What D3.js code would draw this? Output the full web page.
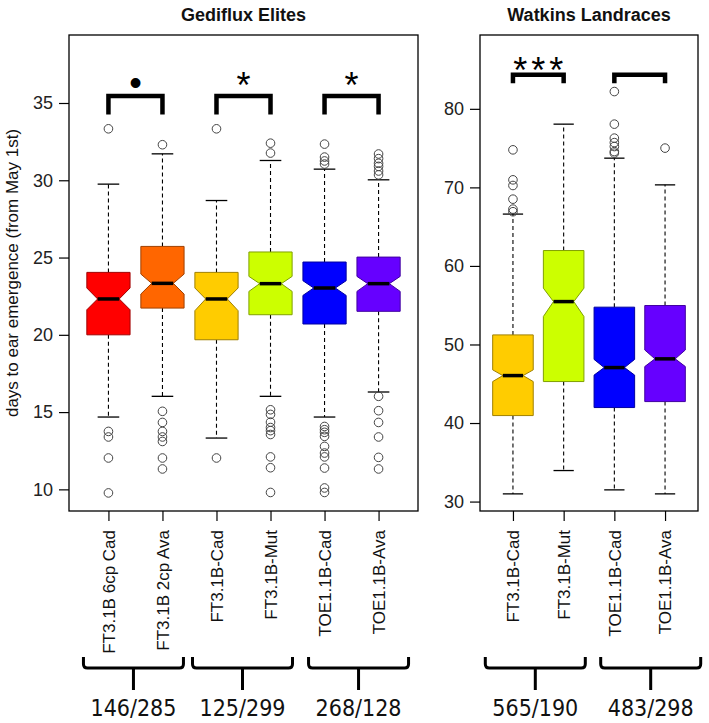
<!DOCTYPE html>
<html><head><meta charset="utf-8">
<script src="https://cdn.jsdelivr.net/npm/d3@7"></script>
<style>body{margin:0;background:#fff} svg{display:block}</style>
</head><body>
<svg id="chart" width="709" height="723"></svg>
<script>
// ---------- data: left panel (Gediflux Elites) ----------
const leftTitle = "Gediflux Elites";
const leftCats = ["FT3.1B 6cp Cad","FT3.1B 2cp Ava","FT3.1B-Cad","FT3.1B-Mut","TOE1.1B-Cad","TOE1.1B-Ava"];
const leftColors = ["#FF0000","#FF6600","#FFCC00","#CCFF00","#0000FF","#6600FF"];
const leftQ1 = [20.0, 21.73, 19.68, 21.3, 20.7, 21.52];
const leftMedian = [22.32, 23.33, 22.32, 23.31, 23.03, 23.31];
const leftQ3 = [24.04, 25.72, 24.04, 25.36, 24.71, 25.03];
const leftNotchLo = [21.62, 22.64, 21.56, 22.81, 22.55, 22.81];
const leftNotchHi = [23.03, 23.93, 23.03, 23.78, 23.5, 23.78];
const leftWhiskerLo = [14.68, 16.02, 13.32, 16.02, 14.68, 16.3];
const leftWhiskerHi = [29.75, 31.71, 28.69, 31.28, 30.72, 30.03];
const leftOutliers = [
  [33.33, 13.75, 13.39, 12.03, 9.77],
  [32.3, 15.05, 14.33, 13.75, 13.39, 13.1, 12.03, 11.32],
  [33.33, 12.03],
  [32.4, 31.76, 15.15, 14.85, 14.35, 14.0, 13.8, 13.55, 12.1, 11.4, 9.8],
  [32.34, 31.5, 31.25, 31.05, 14.07, 13.86, 13.69, 13.43, 12.78, 12.35, 12.1, 11.38, 10.09, 9.8],
  [31.7, 31.4, 31.1, 30.9, 30.6, 30.35, 16.02, 15.09, 14.33, 13.39, 12.07, 11.32]
];
const leftTicks = [10, 15, 20, 25, 30, 35];
const leftSigPairs = [[0,1],[2,3],[4,5]];
const leftSigLabels = ["\u2022","*","*"];
const leftCounts = ["146/285","125/299","268/128"];

// ---------- data: right panel (Watkins Landraces) ----------
const rightTitle = "Watkins Landraces";
const rightCats = ["FT3.1B-Cad","FT3.1B-Mut","TOE1.1B-Cad","TOE1.1B-Ava"];
const rightColors = ["#FFCC00","#CCFF00","#0000FF","#6600FF"];
const rightQ1 = [40.95, 45.28, 41.97, 42.73];
const rightMedian = [46.04, 55.46, 47.06, 48.17];
const rightQ3 = [51.22, 61.96, 54.75, 54.96];
const rightNotchLo = [45.28, 53.56, 46.1, 47.19];
const rightNotchHi = [46.77, 57.17, 48.1, 49.3];
const rightWhiskerLo = [30.98, 33.95, 31.49, 30.98];
const rightWhiskerHi = [66.6, 78.05, 73.72, 70.32];
const rightOutliers = [
  [74.78, 70.96, 70.24, 68.5, 67.23, 66.9],
  [],
  [82.2, 78.05, 76.27, 75.7, 75.2, 74.56, 74.36],
  [75.0]
];
const rightTicks = [30, 40, 50, 60, 70, 80];
const rightSigPairs = [[0,1],[2,3]];
const rightSigLabels = ["***",""];
const rightCounts = ["565/190","483/298"];

const yLabel = "days to ear emergence (from May 1st)";

// ---------- drawing ----------
const svg = d3.select("#chart");
const frameTop = 35, frameBottom = 511;
const FONT = "'Liberation Sans', Arial, Helvetica, sans-serif";

function drawPanel(cfg) {
  const x = d3.scalePoint().domain(cfg.cats).range([cfg.x0, cfg.x1]).padding(cfg.padding);
  const y = d3.scaleLinear().domain(cfg.domain).range([frameBottom, frameTop]);
  const hw = x.step() * 0.8 / 2;
  const g = svg.append("g");

  const boxes = cfg.cats.map((c, i) => ({
    c, i, col: cfg.colors[i], q1: cfg.q1[i], med: cfg.med[i], q3: cfg.q3[i],
    nlo: cfg.nlo[i], nhi: cfg.nhi[i], wlo: cfg.wlo[i], whi: cfg.whi[i], out: cfg.out[i]
  }));

  const bg = g.selectAll("g.box").data(boxes).join("g").attr("class", "box");
  bg.append("line").attr("x1", d => x(d.c)).attr("x2", d => x(d.c))
    .attr("y1", d => y(d.q3)).attr("y2", d => y(d.whi))
    .attr("stroke", "#000").attr("stroke-width", 1.1).attr("stroke-dasharray", "4,3");
  bg.append("line").attr("x1", d => x(d.c)).attr("x2", d => x(d.c))
    .attr("y1", d => y(d.q1)).attr("y2", d => y(d.wlo))
    .attr("stroke", "#000").attr("stroke-width", 1.1).attr("stroke-dasharray", "4,3");
  ["whi", "wlo"].forEach(k => {
    bg.append("line").attr("x1", d => x(d.c) - hw/2).attr("x2", d => x(d.c) + hw/2)
      .attr("y1", d => y(d[k])).attr("y2", d => y(d[k]))
      .attr("stroke", "#000").attr("stroke-width", 1.3);
  });
  bg.append("path")
    .attr("d", d => {
      const cx = x(d.c);
      const pts = [
        [cx-hw, y(d.q3)], [cx+hw, y(d.q3)], [cx+hw, y(d.nhi)], [cx+hw/2, y(d.med)],
        [cx+hw, y(d.nlo)], [cx+hw, y(d.q1)], [cx-hw, y(d.q1)], [cx-hw, y(d.nlo)],
        [cx-hw/2, y(d.med)], [cx-hw, y(d.nhi)]
      ];
      return "M" + pts.map(p => p.join(",")).join("L") + "Z";
    })
    .attr("fill", d => d.col)
    .attr("stroke", d => d3.color(d.col).darker(1.3))
    .attr("stroke-width", 1);
  bg.append("line").attr("x1", d => x(d.c) - hw/2).attr("x2", d => x(d.c) + hw/2)
    .attr("y1", d => y(d.med)).attr("y2", d => y(d.med))
    .attr("stroke", "#000").attr("stroke-width", 3.5);
  bg.selectAll("circle").data(d => d.out.map(v => ({c: d.c, v}))).join("circle")
    .attr("cx", d => x(d.c)).attr("cy", d => y(d.v)).attr("r", 4.3)
    .attr("fill", "none").attr("stroke", "#444").attr("stroke-width", 1);

  g.append("rect").attr("x", cfg.x0).attr("y", frameTop)
    .attr("width", cfg.x1 - cfg.x0).attr("height", frameBottom - frameTop)
    .attr("fill", "none").attr("stroke", "#000").attr("stroke-width", 1.3);

  const ya = g.append("g").attr("transform", `translate(${cfg.x0},0)`)
    .call(d3.axisLeft(y).tickValues(cfg.ticks).tickSize(10).tickPadding(6));
  ya.select(".domain").remove();
  ya.selectAll("line").attr("stroke", "#000").attr("stroke-width", 1.2);
  ya.selectAll("text").attr("font-family", FONT).attr("font-size", 18).attr("fill", "#222");

  const xa = g.append("g").attr("transform", `translate(0,${frameBottom})`)
    .call(d3.axisBottom(x).tickSize(10));
  xa.select(".domain").remove();
  xa.selectAll("line").attr("stroke", "#000").attr("stroke-width", 1.2);
  xa.selectAll("text").attr("font-family", FONT).attr("font-size", 17).attr("fill", "#111")
    .attr("transform", "rotate(-90)").attr("x", -19).attr("y", 0).attr("dy", "0.35em")
    .attr("text-anchor", "end");

  g.append("text").attr("x", (cfg.x0 + cfg.x1) / 2).attr("y", 21)
    .attr("text-anchor", "middle").attr("font-family", FONT).attr("font-weight", "bold")
    .attr("font-size", 18).attr("fill", "#111").text(cfg.title);

  // significance brackets
  cfg.sigPairs.forEach((p, k) => {
    const xa1 = x(cfg.cats[p[0]]), xb1 = x(cfg.cats[p[1]]);
    const yb = y(cfg.sigBar), yl = y(cfg.sigLeg);
    g.append("path").attr("d", `M${xa1},${yl}V${yb}H${xb1}V${yl}`)
      .attr("fill", "none").attr("stroke", "#000").attr("stroke-width", 4.5)
      .attr("stroke-linejoin", "miter");
    const lab = cfg.sigLabels[k];
    if (lab === "\u2022") {
      g.append("text").attr("x", (xa1 + xb1) / 2).attr("y", yb - 1)
        .attr("text-anchor", "middle").attr("font-family", FONT).attr("font-size", 36)
        .attr("fill", "#000").text(lab);
    } else if (lab) {
      g.append("text").attr("x", (xa1 + xb1) / 2 + (lab.length > 1 ? 2 : 0)).attr("y", yb + cfg.starDrop)
        .attr("text-anchor", "middle").attr("font-family", FONT).attr("font-size", 36)
        .attr("letter-spacing", lab.length > 1 ? 4 : 0)
        .attr("fill", "#000").text(lab);
    }
  });

  // bottom group brackets with counts
  cfg.sigPairs.forEach((p, k) => {
    const c = (x(cfg.cats[p[0]]) + x(cfg.cats[p[1]])) / 2 + cfg.bracketShift[k];
    const bh = 50, top = 657, bar = 668, stem = 690;
    g.append("path")
      .attr("d", `M${c-bh},${top}V${bar-4}Q${c-bh},${bar} ${c-bh+4},${bar}H${c+bh-4}Q${c+bh},${bar} ${c+bh},${bar-4}V${top}M${c},${bar}V${stem}`)
      .attr("fill", "none").attr("stroke", "#000").attr("stroke-width", 3);
    g.append("text").attr("x", c).attr("y", 716).attr("text-anchor", "middle")
      .attr("font-family", "'Liberation Sans Narrow', 'DejaVu Sans Condensed', sans-serif")
      .attr("font-size", 23).attr("fill", "#111").text(cfg.counts[k]);
  });
  return {x, y};
}

drawPanel({
  x0: 69, x1: 418, padding: 0.73, domain: [8.6, 39.4], title: leftTitle,
  cats: leftCats, colors: leftColors, q1: leftQ1, med: leftMedian, q3: leftQ3,
  nlo: leftNotchLo, nhi: leftNotchHi, wlo: leftWhiskerLo, whi: leftWhiskerHi, out: leftOutliers,
  ticks: leftTicks, sigPairs: leftSigPairs, sigLabels: leftSigLabels, counts: leftCounts,
  sigBar: 35.45, sigLeg: 34.25, starDrop: 2, bracketShift: [-2, -1, 7]
});
drawPanel({
  x0: 480, x1: 698, padding: 0.65, domain: [28.8, 89.4], title: rightTitle,
  cats: rightCats, colors: rightColors, q1: rightQ1, med: rightMedian, q3: rightQ3,
  nlo: rightNotchLo, nhi: rightNotchHi, wlo: rightWhiskerLo, whi: rightWhiskerHi, out: rightOutliers,
  ticks: rightTicks, sigPairs: rightSigPairs, sigLabels: rightSigLabels, counts: rightCounts,
  sigBar: 84.33, sigLeg: 83.27, starDrop: 8, bracketShift: [-3, 11]
});

svg.append("text").attr("transform", "rotate(-90)").attr("x", -273).attr("y", 12)
  .attr("dy", "0.35em").attr("text-anchor", "middle").attr("font-family", FONT)
  .attr("font-size", 17).attr("fill", "#111").text(yLabel);
</script>
</body></html>
